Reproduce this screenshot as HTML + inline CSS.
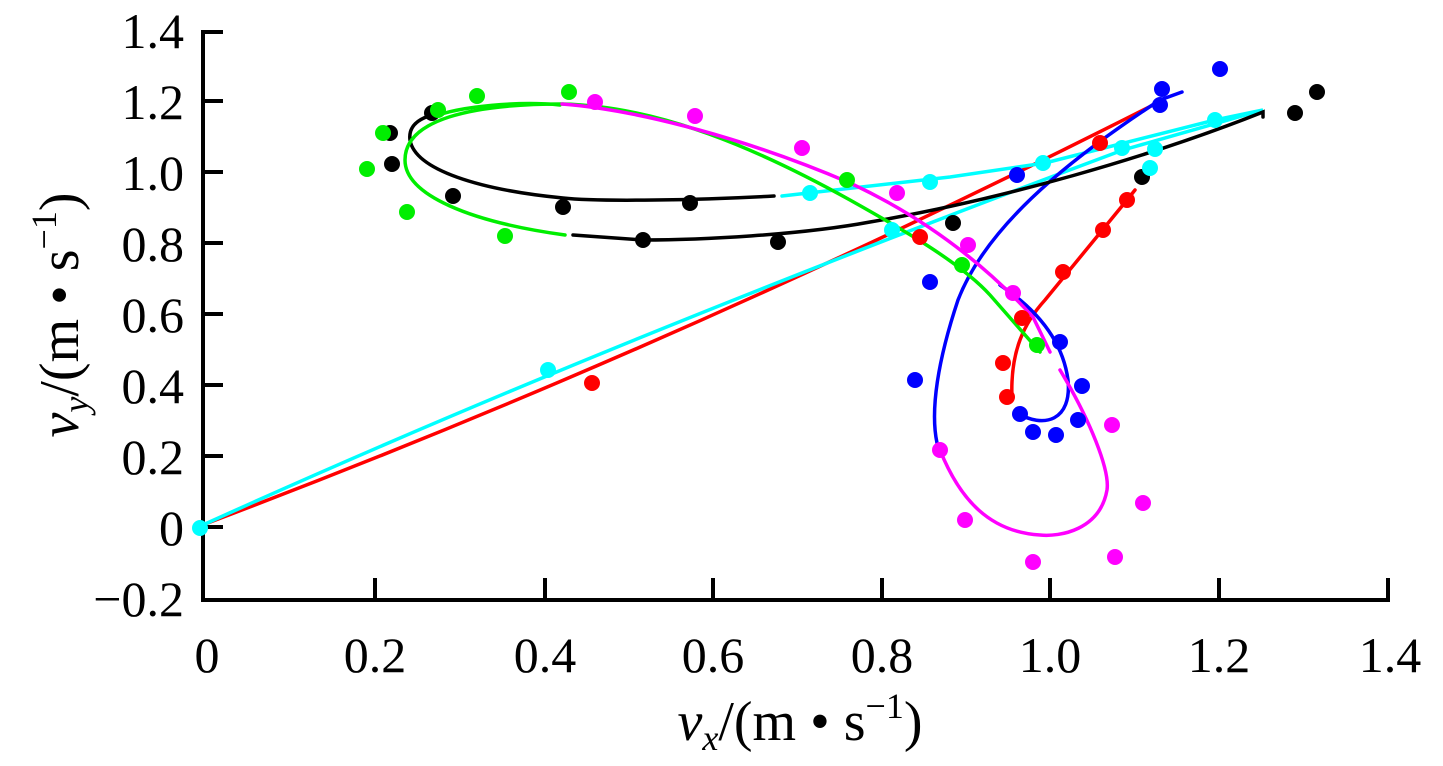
<!DOCTYPE html>
<html><head><meta charset="utf-8"><style>
html,body{margin:0;padding:0;background:#fff;}
svg{display:block;}
text{font-family:"Liberation Serif",serif;fill:#000;}
</style></head><body>
<svg width="1443" height="766" viewBox="0 0 1443 766" xmlns="http://www.w3.org/2000/svg">
<g stroke="#000" stroke-width="4" fill="none">
<path d="M203,30 V600 H1390"/>
<path d="M203,32 h20 M203,101 h20 M203,172 h20 M203,243 h20 M203,314 h20 M203,385 h20 M203,456 h20 M203,527 h20"/>
<path d="M375,600 v-22 M545,600 v-22 M713,600 v-22 M882,600 v-22 M1050,600 v-22 M1219,600 v-22 M1388,600 v-22"/>
</g>
<g font-size="50" text-anchor="end">
<text x="184" y="48">1.4</text><text x="184" y="119">1.2</text><text x="184" y="190">1.0</text>
<text x="184" y="261">0.8</text><text x="184" y="332">0.6</text><text x="184" y="403">0.4</text>
<text x="184" y="474">0.2</text><text x="184" y="545">0</text><text x="184" y="616">−0.2</text>
</g>
<g font-size="50" text-anchor="middle">
<text x="207" y="672">0</text><text x="375" y="672">0.2</text><text x="545" y="672">0.4</text>
<text x="713" y="672">0.6</text><text x="882" y="672">0.8</text><text x="1050" y="672">1.0</text>
<text x="1219" y="672">1.2</text><text x="1390" y="672">1.4</text>
<text x="800" y="740" font-size="56"><tspan font-style="italic">v</tspan><tspan font-style="italic" font-size="36" dy="10">x</tspan><tspan dy="-10">/(m • s</tspan><tspan font-size="36" dy="-22">−1</tspan><tspan dy="22">)</tspan></text>
<text transform="translate(78,315) rotate(-90)" font-size="56"><tspan font-style="italic">v</tspan><tspan font-style="italic" font-size="36" dy="10">y</tspan><tspan dy="-10">/(m • s</tspan><tspan font-size="36" dy="-22">−1</tspan><tspan dy="22">)</tspan></text>
</g>
<g fill="none" stroke-width="3.5" stroke-linecap="round">
<path stroke="#ff0000" d="M205,524 Q680,345 1153,105"/>
<path stroke="#00ffff" d="M205,524 Q600,345 1123,150 L1263,110 L1215,120 L1045,163 L950,177 L782,196"/>
<path stroke="#ff0000" d="M1012,398 C1010,350 1025,322 1045,300 L1127,200 L1135,190"/>
<path stroke="#0000ff" d="M1182,92 L1160,100 C1060,165 985,230 958,300 C938,360 930,410 937,443"/>
<path stroke="#0000ff" d="M1000,285 C1030,305 1062,335 1068,380 C1072,420 1045,430 1015,412"/>
<path stroke="#000" d="M1263,117 L1263,112 C1150,157 1000,200 870,222 C800,235 700,240 643,240 L573,235"/>
<path stroke="#000" d="M774,196 C700,200 600,202 563,198 C480,190 415,170 410,140 C408,125 420,117 440,113"/>
<path stroke="#00ee00" d="M565,235 C470,222 405,195 405,160 C405,120 470,104 562,104 C660,106 760,150 850,200 C900,228 960,262 990,295 L1040,352"/>
<path stroke="#00ee00" d="M433,117 C460,106 520,101 560,105"/>
<path stroke="#ff00ff" d="M562,104 C640,110 750,140 850,183 C930,220 990,270 1033,317 L1050,352"/>
<path stroke="#ff00ff" d="M1060,370 C1090,420 1110,470 1107,490 C1100,530 1060,537 1040,535 C990,532 960,500 940,450"/>
</g>
<g fill="#000">
<circle cx="390" cy="133" r="8"/><circle cx="392" cy="164" r="8"/><circle cx="453" cy="196" r="8"/><circle cx="563" cy="207" r="8"/><circle cx="690" cy="203" r="8"/><circle cx="643" cy="240" r="8"/><circle cx="778" cy="242" r="8"/><circle cx="432" cy="113" r="8"/><circle cx="953" cy="223" r="8"/><circle cx="1142" cy="177" r="8"/><circle cx="1317" cy="92" r="8"/><circle cx="1295" cy="113" r="8"/>
</g>
<g fill="#00ee00">
<circle cx="477" cy="96" r="8"/><circle cx="569" cy="92" r="8"/><circle cx="438" cy="110" r="8"/><circle cx="383" cy="133" r="8"/><circle cx="367" cy="169" r="8"/><circle cx="407" cy="212" r="8"/><circle cx="505" cy="236" r="8"/><circle cx="847" cy="180" r="8"/><circle cx="962" cy="265" r="8"/><circle cx="1037" cy="345" r="8"/>
</g>
<g fill="#ff00ff">
<circle cx="595" cy="102" r="8"/><circle cx="695" cy="116" r="8"/><circle cx="802" cy="148" r="8"/><circle cx="897" cy="193" r="8"/><circle cx="968" cy="245" r="8"/><circle cx="1013" cy="293" r="8"/><circle cx="1112" cy="425" r="8"/><circle cx="940" cy="450" r="8"/><circle cx="1143" cy="503" r="8"/><circle cx="965" cy="520" r="8"/><circle cx="1033" cy="562" r="8"/><circle cx="1115" cy="557" r="8"/>
</g>
<g fill="#ff0000">
<circle cx="920" cy="237" r="8"/><circle cx="1022" cy="318" r="8"/><circle cx="1003" cy="363" r="8"/><circle cx="1007" cy="397" r="8"/><circle cx="1063" cy="272" r="8"/><circle cx="1103" cy="230" r="8"/><circle cx="1127" cy="200" r="8"/><circle cx="1100" cy="143" r="8"/><circle cx="592" cy="383" r="8"/>
</g>
<g fill="#0000ff">
<circle cx="1220" cy="69" r="8"/><circle cx="1162" cy="89" r="8"/><circle cx="1160" cy="105" r="8"/><circle cx="1017" cy="175" r="8"/><circle cx="930" cy="282" r="8"/><circle cx="915" cy="380" r="8"/><circle cx="1060" cy="342" r="8"/><circle cx="1082" cy="386" r="8"/><circle cx="1078" cy="420" r="8"/><circle cx="1020" cy="414" r="8"/><circle cx="1033" cy="432" r="8"/><circle cx="1056" cy="435" r="8"/>
</g>
<g fill="#00ffff">
<circle cx="200" cy="528" r="8"/><circle cx="548" cy="370" r="8"/><circle cx="810" cy="193" r="8"/><circle cx="930" cy="182" r="8"/><circle cx="892" cy="230" r="8"/><circle cx="1043" cy="163" r="8"/><circle cx="1215" cy="120" r="8"/><circle cx="1122" cy="148" r="8"/><circle cx="1155" cy="149" r="8"/><circle cx="1150" cy="168" r="8"/>
</g>
</svg>
</body></html>
